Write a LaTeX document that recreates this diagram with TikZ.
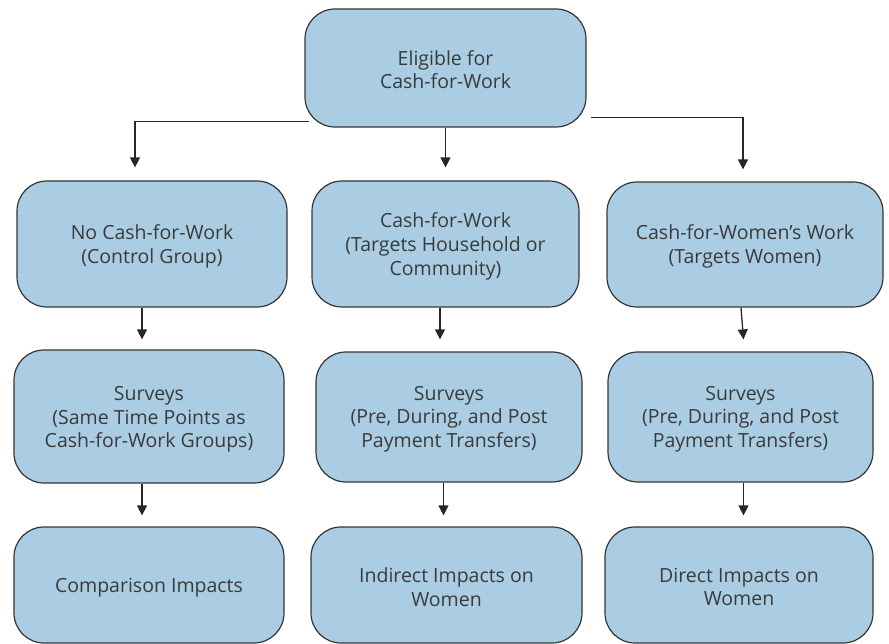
\documentclass[tikz,border=0pt]{standalone}
\usepackage{fontspec}
\setmainfont{Open Sans}
\usetikzlibrary{arrows.meta}
\definecolor{boxfill}{HTML}{ABCDE4}
\definecolor{boxline}{HTML}{353535}
\definecolor{txt}{HTML}{3A3A3A}
\tikzset{
  flowbox/.style={draw=boxline, line width=1.2pt, fill=boxfill, rounded corners=30pt, inner sep=0pt},
  flowtext/.style={align=center, text=txt, inner sep=0pt,
    font=\fontsize{19.5pt}{23.7pt}\selectfont},
  arr/.style={draw=black!85, line width=1.3pt, -{Triangle[length=10pt,width=10pt]}},
}
\begin{document}
\begin{tikzpicture}[x=1pt,y=-1pt]
\useasboundingbox (0,0) rectangle (889,644);
% row 1
\node[flowbox, minimum width=281pt, minimum height=118pt] (top) at (445.5,68) {};
% row 2
\node[flowbox, minimum width=270pt, minimum height=126pt] (A2) at (152,244) {};
\node[flowbox, minimum width=267pt, minimum height=126pt] (B2) at (445.5,244) {};
\node[flowbox, minimum width=276pt, minimum height=125pt] (C2) at (745,244.5) {};
% row 3
\node[flowbox, minimum width=270pt, minimum height=133pt] (A3) at (149,416.5) {};
\node[flowbox, minimum width=266pt, minimum height=130pt] (B3) at (449,417) {};
\node[flowbox, minimum width=265pt, minimum height=130pt] (C3) at (740.5,417) {};
% row 4
\node[flowbox, minimum width=270pt, minimum height=116pt] (A4) at (149,585) {};
\node[flowbox, minimum width=271pt, minimum height=116pt] (B4) at (446.5,585) {};
\node[flowbox, minimum width=268pt, minimum height=116pt] (C4) at (739,585) {};
% texts
\node[flowtext] (topt) at ([yshift=-1.5pt]top.center) {Eligible for\\Cash-for-Work};
\node[flowtext] (A2t) at ([yshift=-2.5pt]A2.center) {No Cash-for-Work\\(Control Group)};
\node[flowtext] (B2t) at ([yshift=-2.5pt]B2.center) {Cash-for-Work\\(Targets Household or\\Community)};
\node[flowtext] (C2t) at ([yshift=-2pt]C2.center) {Cash-for-Women’s Work\\(Targets Women)};
\node[flowtext] (A3t) at ([yshift=-3pt]A3.center) {Surveys\\(Same Time Points as\\Cash-for-Work Groups)};
\node[flowtext] (B3t) at ([yshift=-2pt]B3.center) {Surveys\\(Pre, During, and Post\\Payment Transfers)};
\node[flowtext] (C3t) at ([yshift=-2pt]C3.center) {Surveys\\(Pre, During, and Post\\Payment Transfers)};
\node[flowtext] (A4t) at ([yshift=-2.5pt]A4.center) {Comparison Impacts};
\node[flowtext] (B4t) at ([yshift=-2pt]B4.center) {Indirect Impacts on\\Women};
\node[flowtext] (C4t) at ([yshift=-2pt]C4.center) {Direct Impacts on\\Women};
% connectors
\draw[arr] ([xshift=5pt,yshift=6pt]top.south west) -| ([xshift=-17pt,yshift=13pt]A2.north);
\draw[arr] (top.south) -- ([yshift=13pt]B2.north);
\draw[arr] ([xshift=4pt,yshift=10pt]top.south east) -| ([xshift=-2pt,yshift=12pt]C2.north);
\draw[arr] ([xshift=-10pt]A2.south) -- ([xshift=-7pt,yshift=10pt]A3.north);
\draw[arr] ([xshift=-5.5pt]B2.south) -- ([xshift=-9pt,yshift=12pt]B3.north);
\draw[arr] ([xshift=-4pt]C2.south) -- ([xshift=3pt,yshift=12pt]C3.north);
\draw[arr] ([xshift=-7pt]A3.south) -- ([xshift=-7pt,yshift=11pt]A4.north);
\draw[arr] ([xshift=-5.5pt]B3.south) -- ([xshift=-3pt,yshift=11pt]B4.north);
\draw[arr] ([xshift=3pt]C3.south) -- ([xshift=4.5pt,yshift=11pt]C4.north);
\end{tikzpicture}
\end{document}
